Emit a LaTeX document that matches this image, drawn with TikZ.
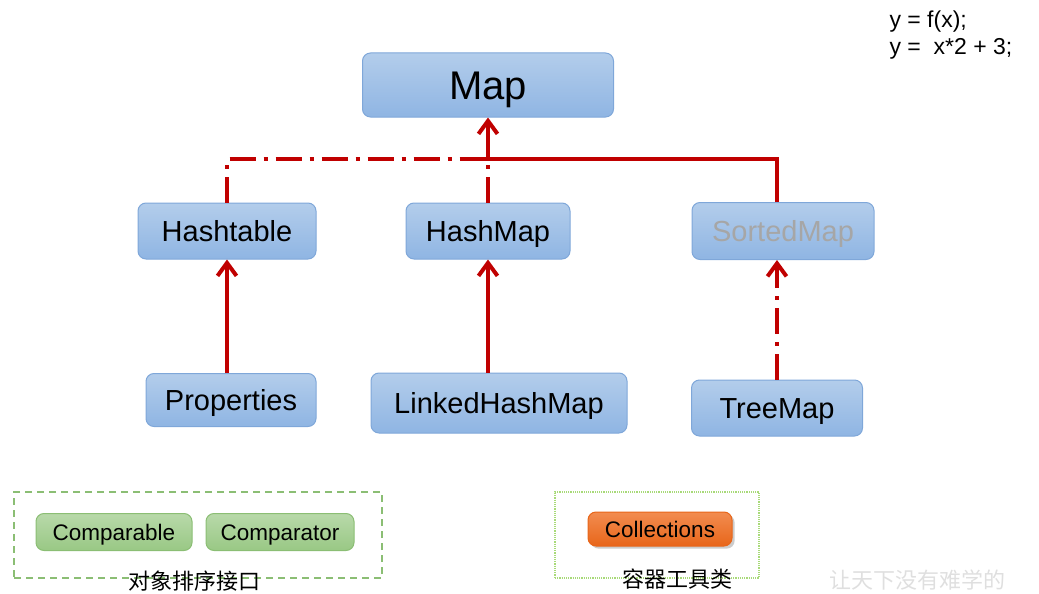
\documentclass[tikz,border=0pt]{standalone}
\usepackage{fontspec}
\setmainfont{Liberation Sans}
\newfontfamily\cjk{Noto Sans CJK SC}
\usetikzlibrary{arrows.meta,shadows}
\definecolor{boxtop}{HTML}{B3CDEB}
\definecolor{boxbot}{HTML}{8FB5E3}
\definecolor{boxline}{HTML}{7FA7D9}
\definecolor{linkred}{HTML}{C00000}
\definecolor{grntop}{HTML}{B8D9AA}
\definecolor{grnbot}{HTML}{99C884}
\definecolor{grnline}{HTML}{8BBE74}
\definecolor{dotgrn}{HTML}{A8DA78}
\definecolor{orgtop}{HTML}{F28C50}
\definecolor{orgbot}{HTML}{E8661A}

\begin{document}
\begin{tikzpicture}[x=1pt,y=-1pt,
    box/.style={draw=boxline,line width=1pt,rounded corners=8pt,top color=boxtop,bottom color=boxbot,
      inner sep=0pt,text height=20.8pt,text depth=0pt,font=\fontsize{29}{34}\selectfont},
    gbox/.style={box,draw=grnline,top color=grntop,bottom color=grnbot,text height=16.1pt,font=\fontsize{22.5}{26}\selectfont},
    obox/.style={box,draw=orgbot,top color=orgtop,bottom color=orgbot,drop shadow={opacity=0.4},text height=16.1pt,font=\fontsize{22.5}{26}\selectfont},
    link/.style={linkred,line width=4pt},
    dashdot/.style={link,dash pattern=on 26pt off 8pt on 4pt off 8pt},
    tip/.style={-{Straight Barb[length=13pt,width=19pt]}}]
    \useasboundingbox (0,0) rectangle (1039,594);
    % the interface and its implementations
    \node[box,minimum width=251pt,minimum height=64pt,text height=28.6pt,font=\fontsize{40}{46}\selectfont] (map) at (488,85) {Map};
    \node[box,minimum width=178pt,minimum height=56pt] (hashtable) at (227,231) {Hashtable};
    \node[box,minimum width=164pt,minimum height=56pt] (hashmap) at (488,231) {HashMap};
    \node[box,minimum width=182pt,minimum height=57pt,text=gray!70] (sortedmap) at (783,231) {SortedMap};
    \node[box,minimum width=170pt,minimum height=53pt] (properties) at (231,400) {Properties};
    \node[box,minimum width=256pt,minimum height=60pt] (linkedhashmap) at (499,403) {LinkedHashMap};
    \node[box,minimum width=171pt,minimum height=56pt] (treemap) at (777,408) {TreeMap};
    \coordinate (junction) at (488,159);
    % connectors
    \draw[dashdot] (hashtable.north) |- (junction);
    \draw[dashdot] (hashmap.north) -- (junction);
    \draw[link,tip] (sortedmap.north -| treemap.north) |- (junction) -- (map.south);
    \draw[link,tip] (properties.north -| hashtable.north) -- (hashtable.south);
    \draw[link,tip] (linkedhashmap.north -| hashmap.north) -- (hashmap.south);
    \draw[dashdot,tip] (treemap.north) -- (treemap.north |- sortedmap.south);
    % groups below
    \node[draw=grnline,line width=1.3pt,dash pattern=on 7pt off 5pt,minimum width=368pt,minimum height=86pt] (sortgroup) at (198,535) {};
    \node[gbox,minimum width=156pt,minimum height=37pt] (comparable) at (114,532) {Comparable};
    \node[gbox,minimum width=148pt,minimum height=37pt] (comparator) at (280,532) {Comparator};
    \node[font=\cjk\fontsize{22}{26}\selectfont] (sortlabel) at (194,581) {对象排序接口};
    \node[draw=dotgrn,line width=1.2pt,densely dotted,minimum width=204pt,minimum height=86pt] (toolgroup) at (657,535) {};
    \node[obox,minimum width=144pt,minimum height=34pt] (collections) at (660,529) {Collections};
    \node[font=\cjk\fontsize{22}{26}\selectfont] (toollabel) at (677,579) {容器工具类};
    % formula and watermark
    \node[anchor=base west,font=\fontsize{23}{27}\selectfont] (fline1) at (886,28) {y = f(x);};
    \node[anchor=base west,font=\fontsize{23}{27}\selectfont] (fline2) at (886,55) {y =\ \ x*2 + 3;};
    \node[anchor=west,text=gray!25,font=\cjk\fontsize{22}{25}\selectfont] (mark) at (826,580) {让天下没有难学的};
\end{tikzpicture}
\end{document}
